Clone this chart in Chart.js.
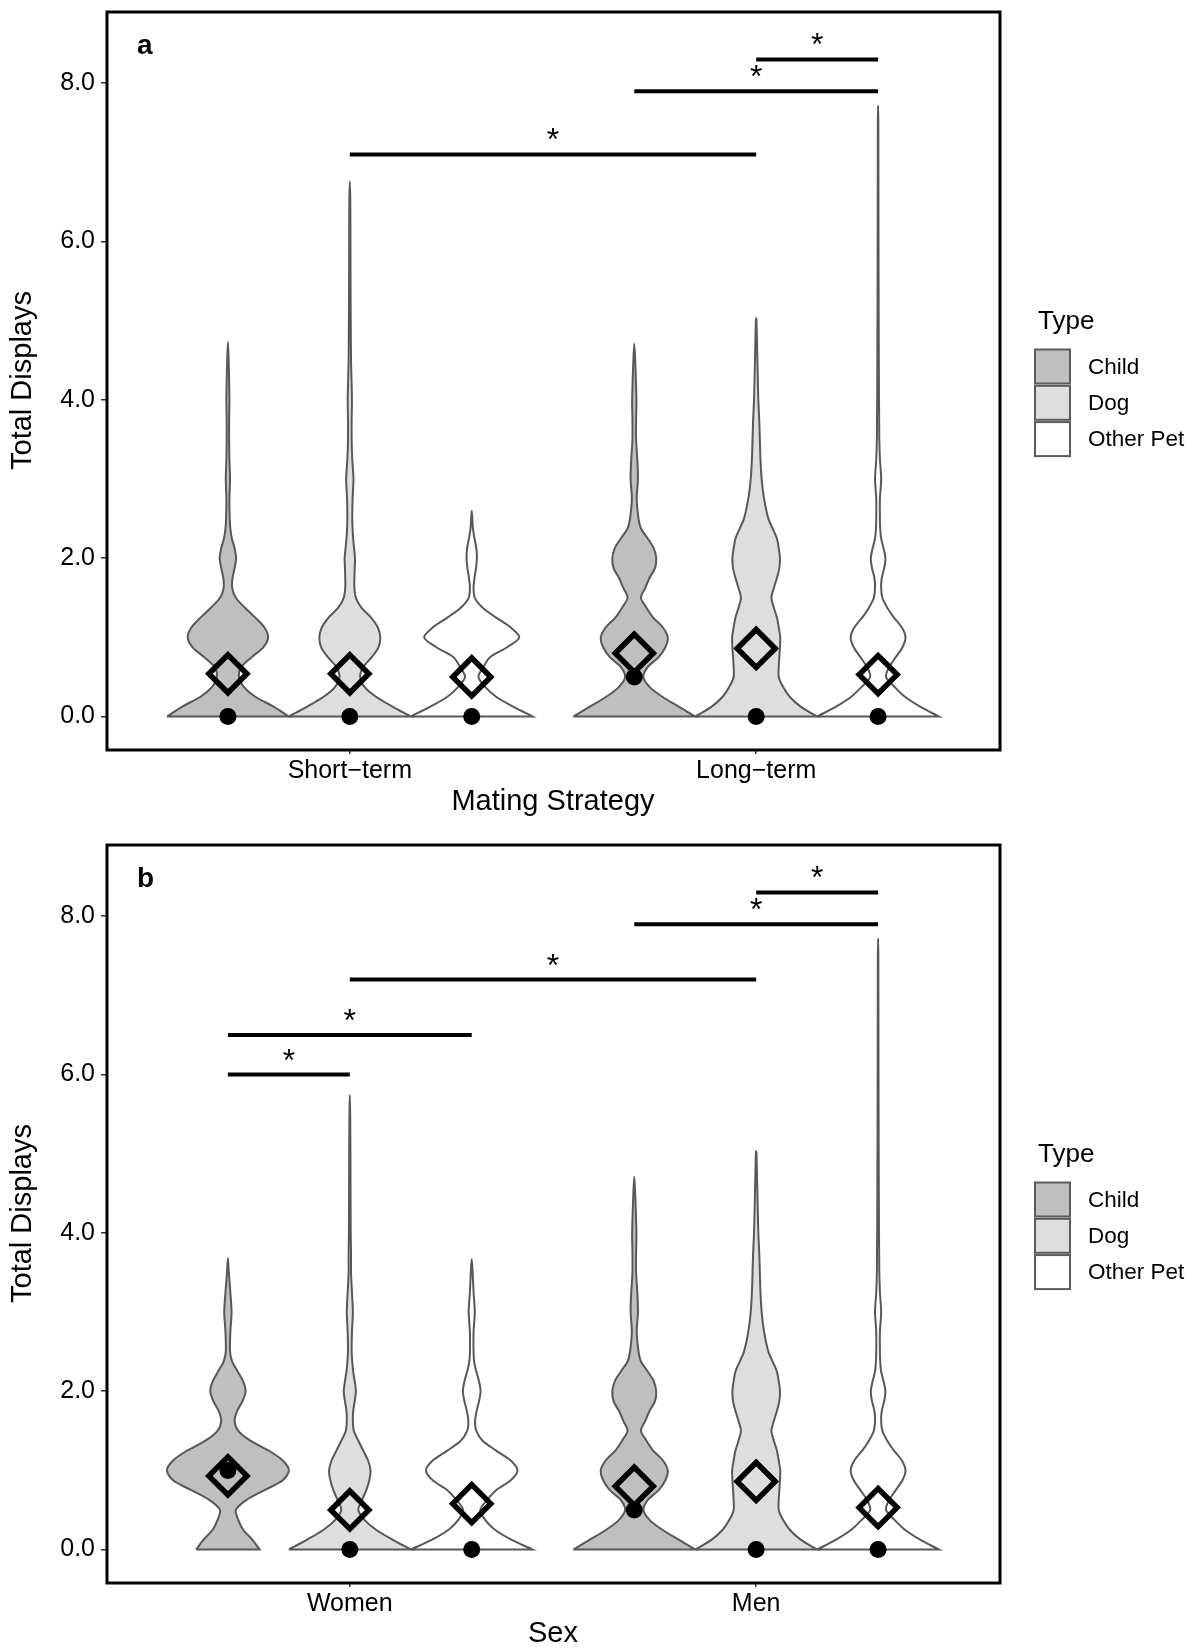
<!DOCTYPE html>
<html>
<head>
<meta charset="utf-8">
<script src="https://cdn.jsdelivr.net/npm/chart.js@4.4.1/dist/chart.umd.min.js"></script>
<style>
  html, body { margin: 0; padding: 0; background: #fff; overflow: hidden; }
  canvas { display: block; }
</style>
</head>
<body>
<canvas id="panelA" width="1194" height="833"></canvas>
<canvas id="panelB" width="1194" height="818"></canvas>
<script>
// ---- values ----
const strategyLabels = ['Short\u2212term', 'Long\u2212term'];
const sexLabels = ['Women', 'Men'];
const typeNames = ['Child', 'Dog', 'Other Pet'];
const typeFills = ['#bebfbe', '#dddedd', '#ffffff'];
const yTicks = [0, 2, 4, 6, 8];

// Total Displays levels at which violin widths were read
const levels = [0, 0.125, 0.25, 0.375, 0.5, 0.625, 0.75, 0.875, 1, 1.125, 1.25, 1.375,
  1.5, 1.625, 1.75, 1.875, 2, 2.125, 2.25, 2.375, 2.5, 2.75, 3, 3.25, 3.5, 3.75, 4,
  4.5, 5, 5.5, 6, 6.5, 7, 7.5];

// relative violin half-width per level (1 = widest)
const stChildW = [1.0, 0.75, 0.45, 0.26, 0.18, 0.22, 0.39, 0.58, 0.66, 0.6, 0.45, 0.28, 0.13, 0.07, 0.075, 0.11, 0.135, 0.11, 0.065, 0.04, 0.03, 0.025, 0.035, 0.025, 0.02, 0.02, 0.025, 0.012];
const stDogW = [1.0, 0.7, 0.43, 0.24, 0.17, 0.22, 0.36, 0.47, 0.5, 0.46, 0.35, 0.19, 0.1, 0.075, 0.075, 0.08, 0.085, 0.07, 0.055, 0.045, 0.04, 0.045, 0.06, 0.04, 0.03, 0.03, 0.035, 0.02, 0.015, 0.012, 0.01, 0.008];
const stOtherW = [1.0, 0.68, 0.4, 0.22, 0.11, 0.19, 0.3, 0.58, 0.78, 0.64, 0.4, 0.18, 0.05, 0.03, 0.045, 0.07, 0.085, 0.075, 0.045, 0.02, 0.01];
const ltChildW = [1.0, 0.73, 0.46, 0.25, 0.15, 0.22, 0.4, 0.51, 0.55, 0.47, 0.31, 0.2, 0.11, 0.18, 0.25, 0.34, 0.36, 0.32, 0.22, 0.11, 0.07, 0.04, 0.06, 0.05, 0.03, 0.03, 0.035, 0.015];
const ltDogW = [1.0, 0.73, 0.55, 0.44, 0.37, 0.37, 0.38, 0.39, 0.395, 0.37, 0.34, 0.29, 0.25, 0.29, 0.34, 0.38, 0.39, 0.37, 0.34, 0.27, 0.2, 0.13, 0.09, 0.07, 0.06, 0.05, 0.035, 0.02, 0.005];
const ltOtherW = [1.0, 0.69, 0.44, 0.27, 0.13, 0.18, 0.29, 0.4, 0.45, 0.39, 0.26, 0.15, 0.07, 0.05, 0.06, 0.1, 0.12, 0.09, 0.05, 0.035, 0.03, 0.03, 0.05, 0.03, 0.02, 0.018, 0.015, 0.012, 0.01, 0.008, 0.007, 0.006, 0.005, 0.004];
const womenChildW = [0.52, 0.4, 0.25, 0.17, 0.13, 0.3, 0.6, 0.9, 1.0, 0.9, 0.67, 0.37, 0.17, 0.11, 0.15, 0.24, 0.29, 0.25, 0.16, 0.07, 0.035, 0.04, 0.06, 0.04, 0.015];
const womenDogW = [1.0, 0.7, 0.43, 0.24, 0.14, 0.2, 0.27, 0.32, 0.34, 0.3, 0.22, 0.14, 0.065, 0.05, 0.055, 0.08, 0.1, 0.08, 0.055, 0.04, 0.03, 0.035, 0.05, 0.035, 0.02, 0.02, 0.015, 0.012, 0.01, 0.006];
const womenOtherW = [1.0, 0.65, 0.38, 0.22, 0.14, 0.25, 0.4, 0.64, 0.75, 0.64, 0.4, 0.18, 0.075, 0.055, 0.08, 0.12, 0.145, 0.12, 0.075, 0.04, 0.03, 0.03, 0.05, 0.03, 0.015];
// the Men violins look identical to the Long-term ones
const menChildW = ltChildW;
const menDogW = ltDogW;
const menOtherW = ltOtherW;

// violin tips (max value), means (diamonds), medians (dots): Child, Dog, Other Pet
const stTops = [4.73, 6.76, 2.6];
const ltTops = [4.71, 5.03, 7.72];
const womenTops = [3.68, 5.74, 3.67];
const menTops = [4.71, 5.03, 7.72];
const stMeans = [0.54, 0.54, 0.5];
const ltMeans = [0.8, 0.86, 0.53];
const womenMeans = [0.93, 0.5, 0.58];
const menMeans = [0.8, 0.86, 0.53];
const stMedians = [0, 0, 0];
const ltMedians = [0.5, 0, 0];
const womenMedians = [1, 0, 0];
const menMedians = [0.5, 0, 0];

// significance brackets: [category, type] -> [category, type], and their heights
const sigAPairs = [[[0, 1], [1, 1]], [[1, 0], [1, 2]], [[1, 1], [1, 2]]];
const sigAHeights = [7.1, 7.9, 8.3];
const sigBPairs = [[[0, 0], [0, 1]], [[0, 0], [0, 2]], [[0, 1], [1, 1]], [[1, 0], [1, 2]], [[1, 1], [1, 2]]];
const sigBHeights = [6.0, 6.5, 7.2, 7.9, 8.3];

// ---- drawing ----
const FONT = '"Liberation Sans", Arial, Helvetica, sans-serif';
const dodge = 0.3;
const maxHalf = 0.15;

function xPos(cat, type) {
  return cat + 1 + (type - 1) * dodge;
}

// closed outline: up the left side, over the tip, down the right side, back along the base
function violinOutline(cx, widths, top) {
  const left = widths.map((w, i) => ({ x: cx - w * maxHalf, y: levels[i] }));
  const right = widths.map((w, i) => ({ x: cx + w * maxHalf, y: levels[i] })).reverse();
  const bl = left[0];
  const br = right[right.length - 1];
  return [bl, ...left, { x: cx, y: top }, ...right, br, bl, bl];
}

function buildDatasets(widthSets, tops, means, medians, sigPairs, sigHeights) {
  const ds = [];
  widthSets.forEach((row, cat) => {
    row.forEach((widths, type) => {
      ds.push({
        data: violinOutline(xPos(cat, type), widths, tops[cat][type]),
        fill: 'shape',
        backgroundColor: typeFills[type],
        borderColor: '#585858',
        borderWidth: 2,
        tension: 0.3,
        pointRadius: 0,
        order: 4
      });
    });
  });
  ds.push({
    data: medians.flatMap((row, cat) => row.map((v, type) => ({ x: xPos(cat, type), y: v }))),
    showLine: false,
    pointStyle: 'circle',
    pointRadius: 8.5,
    pointBackgroundColor: '#000',
    pointBorderWidth: 0,
    order: 3
  });
  ds.push({
    data: means.flatMap((row, cat) => row.map((v, type) => ({ x: xPos(cat, type), y: v }))),
    showLine: false,
    pointStyle: 'rectRot',
    pointRadius: 19,
    pointBorderWidth: 5.5,
    pointBorderColor: '#000',
    pointBackgroundColor: 'rgba(0,0,0,0)',
    order: 2
  });
  sigPairs.forEach((pair, i) => {
    ds.push({
      data: [{ x: xPos(...pair[0]), y: sigHeights[i] }, { x: xPos(...pair[1]), y: sigHeights[i] }],
      borderColor: '#000',
      borderWidth: 4,
      pointRadius: 0,
      fill: false,
      order: 1
    });
  });
  return ds;
}

const decor = {
  id: 'decor',
  afterDraw(chart, args, opts) {
    const { ctx, chartArea: a, scales: { x, y } } = chart;
    ctx.save();
    // significance stars
    ctx.fillStyle = '#000';
    ctx.font = '32px ' + FONT;
    ctx.textAlign = 'center';
    ctx.textBaseline = 'alphabetic';
    opts.sigPairs.forEach((pair, i) => {
      const mid = (xPos(...pair[0]) + xPos(...pair[1])) / 2;
      ctx.fillText('*', x.getPixelForValue(mid), y.getPixelForValue(opts.sigHeights[i]) - 4);
    });
    // panel frame
    ctx.strokeStyle = '#000';
    ctx.lineWidth = 3;
    ctx.strokeRect(a.left + 1, a.top, a.right - a.left - 1, a.bottom - a.top + 1);
    // panel letter
    ctx.textAlign = 'left';
    ctx.font = 'bold 28px ' + FONT;
    ctx.fillText(opts.letter, a.left + 31, a.top + 42);
    // legend
    const lx = a.right + 35;
    const cy = (a.top + a.bottom) / 2;
    ctx.font = '26px ' + FONT;
    ctx.fillText('Type', lx + 3, cy - 52);
    typeNames.forEach((name, i) => {
      const top = cy - 31 + i * 36.3;
      ctx.fillStyle = typeFills[i];
      ctx.fillRect(lx, top, 35, 34);
      ctx.strokeStyle = '#5b5b5b';
      ctx.lineWidth = 2;
      ctx.strokeRect(lx, top, 35, 34);
      ctx.fillStyle = '#000';
      ctx.font = '22.5px ' + FONT;
      ctx.textBaseline = 'middle';
      ctx.fillText(name, lx + 53, top + 18);
      ctx.textBaseline = 'alphabetic';
    });
    ctx.restore();
  }
};

// the label half-heights would otherwise push the plot area down
function noEdgePadding(s) {
  s.paddingTop = 0;
  s.paddingBottom = 0;
  s.paddingLeft = 0;
  s.paddingRight = 0;
}

function makePanel(id, cfg) {
  const tickGrid = { display: true, drawOnChartArea: false, drawTicks: true, tickLength: 5, color: '#333', lineWidth: 1.5 };
  return new Chart(document.getElementById(id), {
    type: 'line',
    data: { datasets: buildDatasets(cfg.widths, cfg.tops, cfg.means, cfg.medians, cfg.sigPairs, cfg.sigHeights) },
    options: {
      responsive: false,
      animation: false,
      events: [],
      layout: { autoPadding: false, padding: { top: 12, right: 194, bottom: cfg.padBottom, left: 0 } },
      plugins: {
        legend: { display: false },
        tooltip: { enabled: false },
        decor: { letter: cfg.letter, sigPairs: cfg.sigPairs, sigHeights: cfg.sigHeights }
      },
      scales: {
        x: {
          type: 'linear',
          min: 0.4,
          max: 2.6,
          afterBuildTicks: s => { s.ticks = cfg.categories.map((c, i) => ({ value: i + 1 })); },
          afterFit: s => { s.height = cfg.xHeight; noEdgePadding(s); },
          ticks: {
            callback: v => cfg.categories[v - 1],
            font: { family: FONT, size: 25 },
            color: '#000',
            padding: 2,
            maxRotation: 0,
            autoSkip: false
          },
          grid: tickGrid,
          border: { display: false },
          title: {
            display: true,
            text: cfg.xTitle,
            font: { family: FONT, size: 29 },
            color: '#000',
            padding: { top: 0, bottom: 0 }
          }
        },
        y: {
          type: 'linear',
          min: -0.41,
          max: 8.9,
          afterBuildTicks: s => { s.ticks = yTicks.map(v => ({ value: v })); },
          afterFit: s => { s.width = 106; noEdgePadding(s); },
          ticks: {
            callback: v => v.toFixed(1),
            font: { family: FONT, size: 25 },
            color: '#000',
            padding: 6
          },
          grid: tickGrid,
          border: { display: false },
          title: {
            display: true,
            text: 'Total Displays',
            font: { family: FONT, size: 29 },
            color: '#000',
            padding: { top: 6, bottom: 0 }
          }
        }
      }
    },
    plugins: [decor]
  });
}

makePanel('panelA', {
  letter: 'a',
  categories: strategyLabels,
  xTitle: 'Mating Strategy',
  widths: [[stChildW, stDogW, stOtherW], [ltChildW, ltDogW, ltOtherW]],
  tops: [stTops, ltTops],
  means: [stMeans, ltMeans],
  medians: [stMedians, ltMedians],
  sigPairs: sigAPairs,
  sigHeights: sigAHeights,
  padBottom: 14,
  xHeight: 70
});

makePanel('panelB', {
  letter: 'b',
  categories: sexLabels,
  xTitle: 'Sex',
  widths: [[womenChildW, womenDogW, womenOtherW], [menChildW, menDogW, menOtherW]],
  tops: [womenTops, menTops],
  means: [womenMeans, menMeans],
  medians: [womenMedians, menMedians],
  sigPairs: sigBPairs,
  sigHeights: sigBHeights,
  padBottom: 0,
  xHeight: 69
});
</script>
</body>
</html>
